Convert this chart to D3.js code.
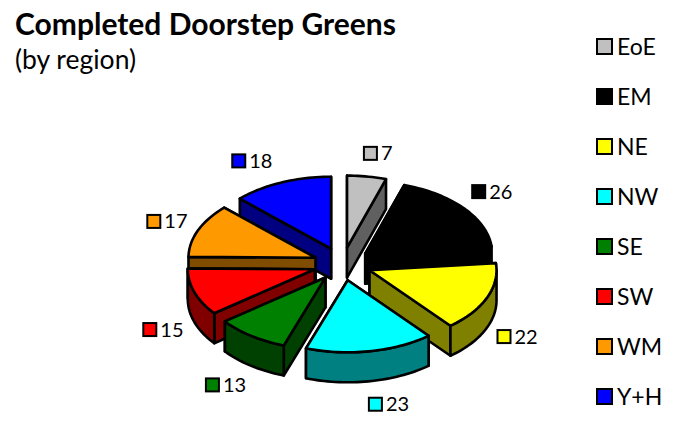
<!DOCTYPE html>
<html>
<head>
<meta charset="utf-8">
<script src="https://cdn.jsdelivr.net/npm/d3@7"></script>
<style>
  html, body { margin: 0; padding: 0; background: #fff; }
  svg { display: block; }
  text { font-family: Lato, "Open Sans", sans-serif; fill: #000; }
</style>
</head>
<body>
<svg id="chart" width="686" height="423"></svg>
<script>
const regions = ["EoE", "EM", "NE", "NW", "SE", "SW", "WM", "Y+H"];
const completed = [7, 26, 22, 23, 13, 15, 17, 18];
const topColors = ["#C0C0C0", "#000000", "#FFFF00", "#00FFFF", "#008000", "#FF0000", "#FF9900", "#0000FF"];
const sideColors = ["#606060", "#000000", "#808000", "#008080", "#004000", "#800000", "#804C00", "#000080"];

const svg = d3.select("#chart");

// pie geometry
const cx = 342.5, cy = 264;
const rx = 127, ry = 72, depth = 30;
const explode = 0.23;

const slices = d3.pie().sort(null)(completed).map((d, i) => {
  const mid = (d.startAngle + d.endAngle) / 2;
  return {
    i: i,
    start: d.startAngle,
    end: d.endAngle,
    mid: mid,
    ax: cx + Math.sin(mid) * rx * explode,
    ay: cy - Math.cos(mid) * ry * explode
  };
});

function rim(s, a, dy) {
  return [s.ax + Math.sin(a) * rx, s.ay - Math.cos(a) * ry + (dy || 0)];
}
function arcPts(s, a0, a1, dy) {
  const n = Math.max(2, Math.ceil((a1 - a0) / 0.03));
  return d3.range(n + 1).map(k => rim(s, a0 + (a1 - a0) * k / n, dy));
}
const line = d3.line();

const pieG = svg.append("g")
  .attr("stroke", "#000")
  .attr("stroke-width", 2.6)
  .attr("stroke-linejoin", "round");

// back to front
slices.slice().sort((a, b) => a.ay - b.ay).forEach(s => {
  const g = pieG.append("g");
  const side = sideColors[s.i];

  // radial cut faces, the one lower on screen goes last
  [s.start, s.end]
    .sort((a, b) => Math.cos(b) - Math.cos(a))
    .forEach(a => {
      const p = rim(s, a);
      g.append("path")
        .attr("fill", side)
        .attr("d", line([[s.ax, s.ay], p, [p[0], p[1] + depth], [s.ax, s.ay + depth]]) + "Z");
    });

  // outer wall, only the part facing us
  const w0 = Math.max(s.start, Math.PI / 2);
  const w1 = Math.min(s.end, Math.PI * 1.5);
  if (w1 > w0) {
    g.append("path")
      .attr("fill", side)
      .attr("d", line(arcPts(s, w0, w1).concat(arcPts(s, w0, w1, depth).reverse())) + "Z");
  }

  g.append("path")
    .attr("fill", topColors[s.i])
    .attr("d", line([[s.ax, s.ay]].concat(arcPts(s, s.start, s.end))) + "Z");
});

// value labels sit on a bigger ellipse round the pie
const labelG = svg.append("g");
slices.forEach(s => {
  const sx = Math.sin(s.mid), cs = Math.cos(s.mid);
  const lx = cx + sx * 172 + Math.sign(sx) * 16 - (cs > 0.9 ? 7 : 0);
  const ly = cy - cs * 112 + (cs < 0 ? depth : 0) - (s.i === 1 ? 2 : 0);
  const g = labelG.append("g");
  const txt = g.append("text")
    .attr("x", 17)
    .attr("y", 7)
    .attr("font-size", 20)
    .text(completed[s.i]);
  const w = 17 + txt.node().getComputedTextLength();
  g.insert("rect", "text")
    .attr("x", 0).attr("y", -6.5)
    .attr("width", 13).attr("height", 13)
    .attr("fill", topColors[s.i])
    .attr("stroke", "#000")
    .attr("stroke-width", 2);
  g.attr("transform", `translate(${lx - w / 2},${ly})`);
});

// legend
const legendY = d3.scalePoint().domain(regions).range([47, 397]);
const legend = svg.append("g").selectAll("g")
  .data(regions)
  .join("g")
  .attr("transform", d => `translate(596,${legendY(d)})`);
legend.append("rect")
  .attr("x", 1).attr("y", -8)
  .attr("width", 15).attr("height", 15)
  .attr("fill", (d, i) => topColors[i])
  .attr("stroke", "#000")
  .attr("stroke-width", 2);
legend.append("text")
  .attr("x", 21)
  .attr("y", 8)
  .attr("font-size", 23)
  .text(d => d);

svg.append("text")
  .attr("x", 15).attr("y", 35)
  .attr("font-size", 30)
  .attr("font-weight", 700)
  .text("Completed Doorstep Greens");
svg.append("text")
  .attr("x", 15).attr("y", 69)
  .attr("font-size", 26.5)
  .text("(by region)");
</script>
</body>
</html>
